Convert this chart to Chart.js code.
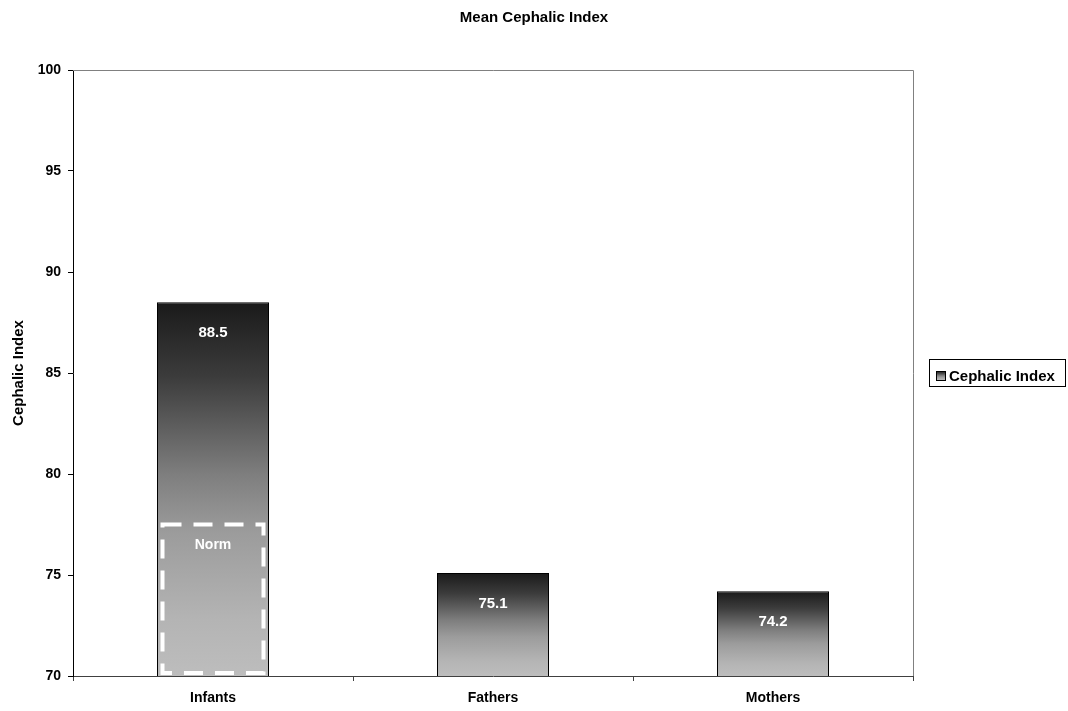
<!DOCTYPE html>
<html>
<head>
<meta charset="utf-8">
<script src="https://cdn.jsdelivr.net/npm/chart.js@4.4.1/dist/chart.umd.min.js"></script>
<style>
  html, body { margin: 0; padding: 0; background: #ffffff; }
  #wrap { width: 1068px; height: 711px; }
</style>
</head>
<body>
<div id="wrap"><canvas id="c" width="1068" height="711"></canvas></div>
<script>
// Chart data
const chartTitle = 'Mean Cephalic Index';
const categories = ['Infants', 'Fathers', 'Mothers'];
const seriesName = 'Cephalic Index';
const cephalicIndex = [88.5, 75.1, 74.2];
const yTicks = [70, 75, 80, 85, 90, 95, 100];
const normRange = [70.15, 77.5];
const normLabel = 'Norm';

const FONT = "'Liberation Sans', Arial, Helvetica, sans-serif";

// Vertical grey ramp: dark at the top of each bar, light at its base
function barGradient(g, top, bottom) {
  const grad = g.createLinearGradient(0, top, 0, bottom);
  grad.addColorStop(0.00, '#1a1a1a');
  grad.addColorStop(0.20, '#3c3c3c');
  grad.addColorStop(0.46, '#7e7e7e');
  grad.addColorStop(0.62, '#9c9c9c');
  grad.addColorStop(0.85, '#b4b4b4');
  grad.addColorStop(1.00, '#bdbdbd');
  return grad;
}

// Title centred across the whole canvas
const canvasTitle = {
  id: 'canvasTitle',
  afterDraw(chart) {
    const { ctx, width } = chart;
    ctx.save();
    ctx.fillStyle = '#000000';
    ctx.font = 'bold 15px ' + FONT;
    ctx.textAlign = 'center';
    ctx.textBaseline = 'middle';
    ctx.fillText(chartTitle, width / 2, 17.5);
    ctx.restore();
  }
};

// Grey frame along the top and right of the plot area
const plotFrame = {
  id: 'plotFrame',
  beforeDatasetsDraw(chart) {
    const { ctx, chartArea: a } = chart;
    ctx.save();
    ctx.strokeStyle = '#808080';
    ctx.lineWidth = 1;
    ctx.beginPath();
    ctx.moveTo(a.left, a.top + 0.5);
    ctx.lineTo(a.right + 0.5, a.top + 0.5);
    ctx.lineTo(a.right + 0.5, a.bottom);
    ctx.stroke();
    ctx.restore();
  }
};

// Value labels inside the bars and the dashed "Norm" box on the first bar
const barAnnotations = {
  id: 'barAnnotations',
  afterDatasetsDraw(chart) {
    const { ctx } = chart;
    const y = chart.scales.y;
    const bars = chart.getDatasetMeta(0).data;
    ctx.save();

    // dashed norm range box
    const b0 = bars[0];
    const inset = 5.5;
    const left = b0.x - b0.width / 2 + inset;
    const right = b0.x + b0.width / 2 - inset;
    const top = y.getPixelForValue(normRange[1]);
    const bottom = y.getPixelForValue(normRange[0]);
    ctx.strokeStyle = '#ffffff';
    ctx.lineWidth = 4;
    ctx.setLineDash([19, 12]);
    ctx.strokeRect(left, top, right - left, bottom - top);
    ctx.setLineDash([]);
    ctx.fillStyle = '#ffffff';
    ctx.font = 'bold 14px ' + FONT;
    ctx.textAlign = 'center';
    ctx.textBaseline = 'middle';
    ctx.fillText(normLabel, b0.x, top + 21);

    // value labels
    ctx.font = 'bold 15px ' + FONT;
    bars.forEach((bar, i) => {
      ctx.fillText(String(cephalicIndex[i]), bar.x, bar.y + 31);
    });
    ctx.restore();
  }
};

// Boxed legend at the right
const boxedLegend = {
  id: 'boxedLegend',
  afterDraw(chart) {
    const { ctx } = chart;
    ctx.save();
    ctx.fillStyle = '#ffffff';
    ctx.fillRect(929.5, 359.5, 136, 27);
    ctx.strokeStyle = '#000000';
    ctx.lineWidth = 1;
    ctx.strokeRect(929.5, 359.5, 136, 27);
    ctx.fillStyle = barGradient(ctx, 371, 381);
    ctx.fillRect(936.5, 371.5, 9, 9);
    ctx.strokeRect(936.5, 371.5, 9, 9);
    ctx.fillStyle = '#000000';
    ctx.font = 'bold 15px ' + FONT;
    ctx.textAlign = 'left';
    ctx.textBaseline = 'alphabetic';
    ctx.fillText(seriesName, 949, 380.5);
    ctx.restore();
  }
};

new Chart(document.getElementById('c'), {
  type: 'bar',
  data: {
    labels: categories,
    datasets: [{
      label: seriesName,
      data: cephalicIndex,
      backgroundColor(context) {
        const chart = context.chart;
        if (!chart.chartArea || context.raw === undefined) return '#888888';
        const ys = chart.scales.y;
        const top = ys.getPixelForValue(context.raw);
        const base = ys.getPixelForValue(ys.min);
        return barGradient(chart.ctx, top, base);
      },
      borderColor: '#000000',
      borderWidth: 1,
      borderSkipped: 'start',
      barPercentage: 0.4,
      categoryPercentage: 1.0
    }]
  },
  options: {
    responsive: false,
    animation: false,
    devicePixelRatio: 1,
    layout: { padding: { left: 0, right: 155, top: 70, bottom: 0 } },
    plugins: {
      legend: { display: false },
      tooltip: { enabled: false },
      title: { display: false }
    },
    scales: {
      x: {
        afterFit(scale) { scale.height = 35; },
        grid: {
          offset: true,
          drawOnChartArea: false,
          drawTicks: true,
          tickLength: 5,
          color: '#404040'
        },
        border: { display: true, color: '#404040', width: 1 },
        ticks: {
          color: '#000000',
          padding: 9,
          font: { family: FONT, size: 14, weight: 'bold' }
        }
      },
      y: {
        min: 70,
        max: 100,
        afterFit(scale) { scale.width = 73; },
        afterBuildTicks(scale) { scale.ticks = yTicks.map(v => ({ value: v })); },
        grid: {
          drawOnChartArea: false,
          drawTicks: true,
          tickLength: 5,
          color: '#000000'
        },
        border: { display: true, color: '#000000', width: 1 },
        ticks: {
          color: '#000000',
          padding: 7,
          font: { family: FONT, size: 14, weight: 'bold' }
        },
        title: {
          display: true,
          text: seriesName,
          color: '#000000',
          font: { family: FONT, size: 15, weight: 'bold', lineHeight: 1.2 },
          padding: { top: 10, bottom: 0 }
        }
      }
    }
  },
  plugins: [canvasTitle, plotFrame, barAnnotations, boxedLegend]
});
</script>
</body>
</html>
